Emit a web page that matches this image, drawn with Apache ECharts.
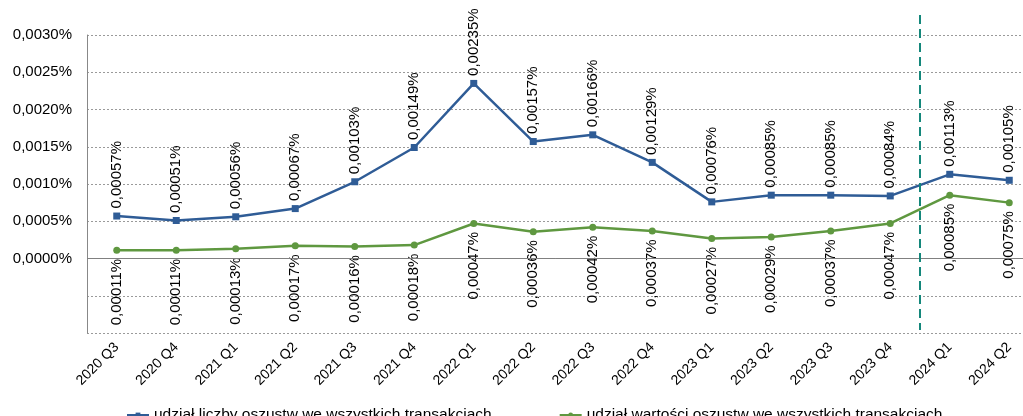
<!DOCTYPE html>
<html>
<head>
<meta charset="utf-8">
<script src="https://cdn.jsdelivr.net/npm/echarts@6/dist/echarts.min.js"></script>
<style>
html,body{margin:0;padding:0;background:#fff;}
#chart{width:1023px;height:416px;}
</style>
</head>
<body>
<div id="chart"></div>
<script>
const categories = ['2020 Q3','2020 Q4','2021 Q1','2021 Q2','2021 Q3','2021 Q4','2022 Q1','2022 Q2','2022 Q3','2022 Q4','2023 Q1','2023 Q2','2023 Q3','2023 Q4','2024 Q1','2024 Q2'];
const countShare = [0.00057,0.00051,0.00056,0.00067,0.00103,0.00149,0.00235,0.00157,0.00166,0.00129,0.00076,0.00085,0.00085,0.00084,0.00113,0.00105];
const valueShare = [0.00011,0.00011,0.00013,0.00017,0.00016,0.00018,0.00047,0.00036,0.00042,0.00037,0.00027,0.00029,0.00037,0.00047,0.00085,0.00075];
const seriesNames = ['udział liczby oszustw we wszystkich transakcjach','udział wartości oszustw we wszystkich transakcjach'];
const dividerAfter = '2023 Q4';

const FONT = '"Liberation Sans", Arial, sans-serif';
const BLUE = '#2f5c96';
const GREEN = '#5f9840';
const TEAL = '#14877b';

const fmtLabel = v => v.toFixed(5).replace('.', ',') + '%';

const chart = echarts.init(document.getElementById('chart'), null, {renderer:'canvas'});
chart.setOption({
  animation:false,
  textStyle:{fontFamily:FONT},
  grid:{left:87, top:35, bottom:83, right:-16, containLabel:false, outerBoundsMode:'none'},
  legend:{
    left:121, top:402, itemGap:67, itemWidth:22, itemHeight:6,
    textStyle:{fontFamily:FONT, fontSize:15.5, color:'#000'},
    data:seriesNames
  },
  xAxis:{
    type:'category', data:categories, boundaryGap:true,
    axisLine:{show:false}, axisTick:{show:false},
    axisLabel:{rotate:45, fontSize:14, color:'#000', fontFamily:FONT, margin:12, interval:0},
    splitLine:{show:false}
  },
  yAxis:{
    type:'value', min:-0.0010, max:0.0030, interval:0.0005,
    axisLine:{show:true, lineStyle:{color:'#888', width:1}},
    axisTick:{show:false},
    axisLabel:{fontSize:15, color:'#000', fontFamily:FONT, margin:15,
      formatter: v => v < -1e-9 ? '' : Math.abs(v).toFixed(4).replace('.', ',') + '%'},
    splitLine:{show:true, lineStyle:{color:'#9a9a9a', width:1, type:[2,2]}}
  },
  series:[
    {
      name:seriesNames[0], type:'line', data:countShare,
      symbol:'rect', symbolSize:7,
      lineStyle:{color:BLUE, width:2.5}, itemStyle:{color:BLUE},
      label:{show:true, position:'top', rotate:90, align:'left', verticalAlign:'middle', distance:4,
        fontSize:15, color:'#000', fontFamily:FONT, formatter:p => fmtLabel(p.value)},
      markLine:{silent:true, symbol:'none', label:{show:false},
        lineStyle:{color:'#808080', width:1, type:'solid'}, data:[{yAxis:0}]},
      z:3
    },
    {
      name:seriesNames[1], type:'line', data:valueShare,
      symbol:'circle', symbolSize:7,
      lineStyle:{color:GREEN, width:2.5}, itemStyle:{color:GREEN},
      label:{show:true, position:'bottom', rotate:90, align:'right', verticalAlign:'middle', distance:5,
        fontSize:15, color:'#000', fontFamily:FONT, formatter:p => fmtLabel(p.value)},
      z:2
    }
  ]
});

// teal dashed divider between 2023 Q4 and 2024 Q1, placed via the chart's own scale
const i = categories.indexOf(dividerAfter);
const xa = chart.convertToPixel({xAxisIndex:0}, categories[i]);
const xb = chart.convertToPixel({xAxisIndex:0}, categories[i+1]);
const xm = Math.round((xa + xb) / 2);
const yBottom = chart.convertToPixel({yAxisIndex:0}, -0.0010);
chart.setOption({
  graphic:[{
    type:'line', silent:true, z:10,
    shape:{x1:xm, y1:15, x2:xm, y2:yBottom - 3},
    style:{stroke:TEAL, lineWidth:2, lineDash:[9,5]}
  }]
});
</script>
</body>
</html>
